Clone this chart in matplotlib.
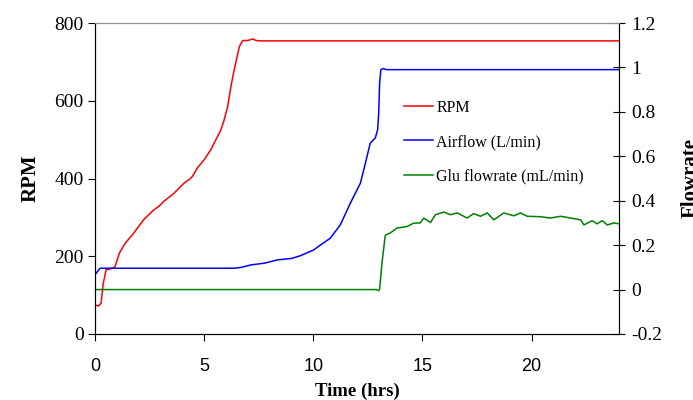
import matplotlib.pyplot as plt

# RPM (left axis)
rpm_t = [0, 0.15, 0.28, 0.38, 0.51, 0.69, 0.92, 1.12, 1.38, 1.77, 2.23, 2.69, 2.92,
         3.15, 3.62, 4.08, 4.31, 4.46, 4.69, 5.0, 5.31, 5.54, 5.77, 5.92, 6.08, 6.23,
         6.38, 6.62, 6.77, 7.0, 7.23, 7.38, 7.6, 24]
rpm = [75, 72, 79, 130, 165, 167, 173, 208, 233, 259, 294, 319, 328,
       341, 362, 388, 397, 405, 427, 448, 474, 500, 525, 551, 585, 637,
       680, 740, 755, 755, 759, 755, 754, 754]

# Airflow (right axis)
air_t = [0, 0.23, 6.38, 6.7, 7.15, 7.77, 8.38, 9.0, 9.4, 10.01, 10.32, 10.78, 11.24,
         11.70, 12.16, 12.39, 12.61, 12.84, 12.95, 13.0, 13.04, 13.1, 13.2, 13.35, 24]
air = [0.066, 0.096, 0.096, 0.10, 0.111, 0.119, 0.134, 0.14, 0.152, 0.178, 0.2, 0.231, 0.291,
       0.389, 0.479, 0.569, 0.659, 0.682, 0.719, 0.794, 0.93, 0.99, 0.995, 0.99, 0.99]

# Glucose flowrate (right axis)
glu_t = [0, 12.9, 12.98, 13.04, 13.15, 13.3, 13.53, 13.84, 14.3, 14.6, 14.9, 15.06, 15.37,
         15.6, 15.98, 16.28, 16.6, 17.05, 17.35, 17.66, 17.97, 18.27, 18.73, 19.19, 19.5,
         19.8, 20.41, 20.87, 21.33, 21.79, 22.25, 22.4, 22.78, 23.0, 23.24, 23.47, 23.78, 24.0]
glu = [0, 0, -0.005, 0.0, 0.12, 0.245, 0.255, 0.277, 0.284, 0.299, 0.30, 0.322, 0.302,
       0.337, 0.349, 0.337, 0.345, 0.322, 0.342, 0.33, 0.345, 0.314, 0.345, 0.332, 0.345,
       0.33, 0.328, 0.322, 0.33, 0.322, 0.314, 0.291, 0.31, 0.296, 0.31, 0.291, 0.30, 0.296]

serif = "Liberation Serif"
sans = "Liberation Sans"

fig = plt.figure(figsize=(6.93, 4.0), dpi=100)
ax = fig.add_axes([0.137, 0.165, 0.756, 0.7775])
ax2 = ax.twinx()

l1, = ax.plot(rpm_t, rpm, color="#ff0000", lw=1.1, label="RPM")
l2, = ax2.plot(air_t, air, color="#0000ff", lw=1.1, label="Airflow (L/min)")
l3, = ax2.plot(glu_t, glu, color="#008000", lw=1.1, label="Glu flowrate (mL/min)")

ax.set_xlim(0, 24)
ax.set_ylim(0, 800)
ax.set_yticks([0, 200, 400, 600, 800])
ax.set_xticks([0, 5, 10, 15, 20])
ax2.set_ylim(-0.2, 1.2)
ax2.set_yticks([-0.2, 0, 0.2, 0.4, 0.6, 0.8, 1.0, 1.2])
ax2.set_yticklabels(["-0.2", "0", "0.2", "0.4", "0.6", "0.8", "1", "1.2"])

for a in (ax, ax2):
    a.spines["top"].set_color("#909090")
    for s in ("left", "right", "bottom"):
        a.spines[s].set_color("black")

ax.tick_params(axis="y", direction="out", length=5, labelsize=14, pad=3)
ax.tick_params(axis="x", direction="out", length=5, labelsize=13, pad=12)
ax2.tick_params(axis="y", direction="inout", length=8, labelsize=14, pad=5)
for lab in ax.get_yticklabels() + ax2.get_yticklabels():
    lab.set_family(serif)
for lab in ax.get_xticklabels():
    lab.set_family(sans)

ax.set_ylabel("RPM", fontfamily=serif, fontweight="bold", fontsize=15, labelpad=10)
ax.set_xlabel("Time (hrs)", fontfamily=serif, fontweight="bold", fontsize=13.5, labelpad=6)
ax2.set_ylabel("Flowrate", fontfamily=serif, fontweight="bold", fontsize=15, labelpad=13)

ax2.legend([l1, l2, l3], [l.get_label() for l in (l1, l2, l3)],
           loc="upper left", bbox_to_anchor=(0.562, 0.80), frameon=False,
           prop={"family": serif, "size": 11.5}, handlelength=1.8,
           handletextpad=0.25, labelspacing=1.15)

plt.savefig("out.png", dpi=100)
